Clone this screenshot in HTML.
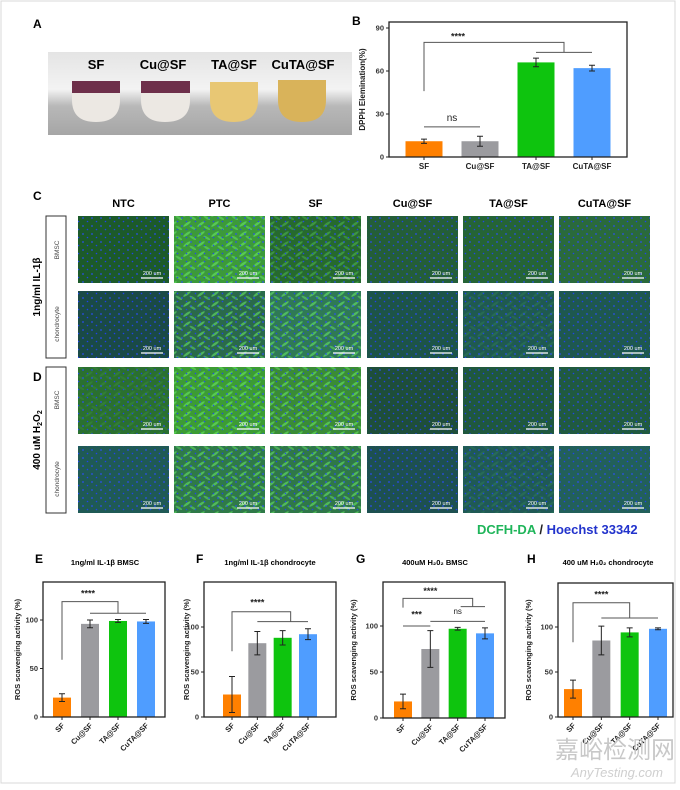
<!DOCTYPE html>
<html><head><meta charset="utf-8">
<style>
html,body{margin:0;padding:0;background:#fff;}
body{width:680px;height:785px;overflow:hidden;font-family:"Liberation Sans",Arial,sans-serif;}
svg text{font-family:"Liberation Sans",Arial,sans-serif;}
</style></head>
<body>
<svg id="fig" width="680" height="785" viewBox="0 0 680 785" xmlns="http://www.w3.org/2000/svg">
<defs>
 <pattern id="nuc" width="9" height="8" patternUnits="userSpaceOnUse">
  <circle cx="2" cy="2" r="0.9" fill="#2b4cff"/><circle cx="6.5" cy="5.5" r="0.8" fill="#2040ff"/>
 </pattern>
 <pattern id="cells" width="14" height="10" patternUnits="userSpaceOnUse">
  <ellipse cx="5" cy="4" rx="4.5" ry="1.2" transform="rotate(-35 5 4)" fill="#6cf06a" opacity="0.55"/>
  <ellipse cx="11" cy="8" rx="4" ry="1.1" transform="rotate(30 11 8)" fill="#6cf06a" opacity="0.45"/>
 </pattern>
 <linearGradient id="photo" x1="0" y1="0" x2="0" y2="1">
  <stop offset="0" stop-color="#e4e4e4"/><stop offset="0.45" stop-color="#f3f3f3"/><stop offset="0.65" stop-color="#b8b8b8"/><stop offset="1" stop-color="#a6a6a6"/>
 </linearGradient>
</defs>
<rect x="1" y="1" width="674" height="782" fill="#fff" stroke="#d8d8d8" stroke-width="1"/>

<!-- Panel A -->
<text x="33" y="28" font-size="12" font-weight="bold">A</text>
<g>
 <rect x="48" y="52" width="304" height="83" fill="url(#photo)"/>
 <g><path d="M72 81 L120 81 L120 100 Q120 122 96 122 Q72 122 72 100 Z" fill="#ece8e3"/><rect x="72" y="81" width="48" height="12" fill="#6e2f4a"/></g>
 <g><path d="M141 81 L190 81 L190 100 Q190 122 165 122 Q141 122 141 100 Z" fill="#ece8e3"/><rect x="141" y="81" width="49" height="12" fill="#6e2f4a"/></g>
 <g><path d="M210 82 L258 82 L258 100 Q258 122 234 122 Q210 122 210 100 Z" fill="#e8c774"/></g>
 <g><path d="M278 80 L326 80 L326 100 Q326 122 302 122 Q278 122 278 100 Z" fill="#d9b35a"/></g>
 <text x="96" y="69" font-size="13" font-weight="bold" text-anchor="middle">SF</text>
 <text x="163" y="69" font-size="13" font-weight="bold" text-anchor="middle">Cu@SF</text>
 <text x="234" y="69" font-size="13" font-weight="bold" text-anchor="middle">TA@SF</text>
 <text x="303" y="69" font-size="13" font-weight="bold" text-anchor="middle">CuTA@SF</text>
</g>

<g id="charts"></g>
<g id="micro"></g>

<text x="33" y="200" font-size="12" font-weight="bold">C</text>
<text x="33" y="381" font-size="12" font-weight="bold">D</text>
<text x="40" y="287" font-size="10" font-weight="bold" text-anchor="middle" transform="rotate(-90 40 287)">1ng/ml IL-1β</text>
<text x="40" y="440" font-size="10" font-weight="bold" text-anchor="middle" transform="rotate(-90 40 440)">400 uM H<tspan font-size="7" dy="2">2</tspan><tspan dy="-2">O</tspan><tspan font-size="7" dy="2">2</tspan></text>
<g><rect x="46" y="216" width="20" height="142" fill="#fff" stroke="#333" stroke-width="1"/></g>
<g><rect x="46" y="367" width="20" height="146" fill="#fff" stroke="#333" stroke-width="1"/></g>
<text x="59" y="250" font-size="6.5" fill="#444" text-anchor="middle" transform="rotate(-90 59 250)">BMSC</text>
<text x="59" y="324" font-size="6.5" fill="#444" text-anchor="middle" transform="rotate(-90 59 324)">chondrocyte</text>
<text x="59" y="400" font-size="6.5" fill="#444" text-anchor="middle" transform="rotate(-90 59 400)">BMSC</text>
<text x="59" y="479" font-size="6.5" fill="#444" text-anchor="middle" transform="rotate(-90 59 479)">chondrocyte</text>

<text x="477" y="534" font-size="13" font-weight="bold"><tspan fill="#1fb55a">DCFH-DA</tspan><tspan fill="#222"> / </tspan><tspan fill="#2233cc">Hoechst 33342</tspan></text>

<g>
<text x="615" y="758" font-size="24" fill="#c8c8c8" text-anchor="middle" font-family="'Liberation Sans','Noto Sans CJK SC',sans-serif">嘉峪检测网</text>
<text x="617" y="777" font-size="13" fill="#cfcfcf" font-style="italic" text-anchor="middle">AnyTesting.com</text>
</g>
</svg>
<script>
const NS="http://www.w3.org/2000/svg";
const categories=["SF","Cu@SF","TA@SF","CuTA@SF"];
const dpphValues=[11,11,66,62];
const dpphErrors=[1.5,3.5,3,2];
const dpphTicks=[0,30,60,90];
const eValues=[20,96,99,98.5];
const eErrors=[4,4,1.5,2];
const fValues=[25,82,88,92];
const fErrors=[20,13,8,6];
const gValues=[18,75,97,92];
const gErrors=[8,20,1.5,6];
const hValues=[31,85,94,98];
const hErrors=[10,16,5,1];
const rosTicks=[0,50,100];
const barColors=["#ff8000","#9b9b9f","#0ec40e","#4f9dff"];

function el(tag,attrs,parent){const e=document.createElementNS(NS,tag);for(const k in attrs)e.setAttribute(k,attrs[k]);(parent||document.getElementById('charts')).appendChild(e);return e;}

function chart(o){
 const g=el('g',{});
 
 
 const y=v=>o.b-(v)*o.s;
 const x=i=>o.l+o.pad+i*(o.r-o.l-2*o.pad)/3;
 const bw=o.bw;
 o.vals.forEach((v,i)=>{
  const r=el('rect',{x:x(i)-bw/2,y:y(v),width:bw,height:o.b-y(v),fill:barColors[i]},g);
  
  
  const e=o.errs[i];
  const eb=el('path',{d:`M${x(i)} ${y(v+e)}V${y(v-e)}M${x(i)-3} ${y(v+e)}H${x(i)+3}M${x(i)-3} ${y(v-e)}H${x(i)+3}`,stroke:'#222','stroke-width':1,fill:'none'},g);
  
  
 });
 const box=el('rect',{x:o.l,y:o.t,width:o.r-o.l,height:o.b-o.t,fill:'none',stroke:'#222','stroke-width':1.3},g);
 
 
 o.ticks.forEach(t=>{
  el('line',{x1:o.l-3,x2:o.l,y1:y(t),y2:y(t),stroke:'#222'},g);
  const tx=el('text',{x:o.l-5,y:y(t)+2.5,'font-size':7.5,'font-weight':'bold','text-anchor':'end',fill:'#333'},g);
  tx.textContent=t;
  
  
 });
 categories.forEach((c,i)=>{
  el('line',{x1:x(i),x2:x(i),y1:o.b,y2:o.b+3,stroke:'#222'},g);
  let t;
  if(o.rot){t=el('text',{x:x(i)+3,y:o.b+9,'font-size':7.5,'font-weight':'bold','text-anchor':'end',transform:`rotate(-45 ${x(i)+3} ${o.b+9})`,fill:'#222'},g);}
  else{t=el('text',{x:x(i),y:o.b+12,'font-size':8,'font-weight':'bold','text-anchor':'middle',fill:'#222'},g);}
  t.textContent=c;
  
  
 });
 const yt=el('text',{x:o.ytx,y:(o.t+o.b)/2,'font-size':o.ytfs||7.5,'font-weight':'bold','text-anchor':'middle',transform:`rotate(-90 ${o.ytx} ${(o.t+o.b)/2})`,fill:'#222'},g);
 yt.textContent=o.ytitle;
 
 
 (o.brackets||[]).forEach(bk=>{
  const p=el('path',{d:bk(x,y),stroke:'#555','stroke-width':1,fill:'none'},g);
  
  
 });
 (o.stars||[]).forEach(s=>{
  const t=el('text',{x:s[0](x),y:y(s[1]),'font-size':s[3]||9,'font-weight':s[2]==='ns'?'normal':'bold','text-anchor':'middle',fill:'#222'},g);
  t.textContent=s[2];
  
  
 });
 return {x,y};
}

// B
chart({name:'dpph-chart',l:389,r:627,t:22,b:157,s:(157-28)/90,pad:35,bw:37,vals:dpphValues,errs:dpphErrors,ticks:dpphTicks,ytx:365,ytitle:'DPPH Elemination(%)',ytfs:8,
 brackets:[(x,y)=>`M${x(0)} ${y(46)}V${y(80)}H${(x(2)+x(3))/2}V${y(73)}M${x(2)} ${y(73)}H${x(3)}`,(x,y)=>`M${x(0)} ${y(21)}H${x(1)}`],
 stars:[[x=>(x(0)+x(3))/2-50,82,'****'],[x=>(x(0)+x(1))/2,25,'ns',10]]});
el('text',{x:352,y:25,'font-size':12,'font-weight':'bold'}).textContent='B';

// E
chart({name:'chart-e',l:43,r:165,t:582,b:717,s:0.97,pad:19,bw:18,vals:eValues,errs:eErrors,ticks:rosTicks,ytx:20,ytitle:'ROS scavenging activity (%)',rot:true,
 brackets:[(x,y)=>`M${x(0)} ${y(59)}V${y(119)}H${x(2)}V${y(107)}M${x(1)} ${y(107)}H${x(3)}`],stars:[[x=>(x(0)+x(2))/2-2,124,'****']]});
// F
chart({name:'chart-f',l:204,r:336,t:582,b:717,s:0.9,pad:28,bw:18,vals:fValues,errs:fErrors,ticks:rosTicks,ytx:189,ytitle:'ROS scavenging activity (%)',rot:true,
 brackets:[(x,y)=>`M${x(0)} ${y(73)}V${y(117)}H${(x(1)+x(3))/2+8}V${y(106)}M${x(1)} ${y(106)}H${x(3)}`],stars:[[x=>(x(0)+x(2))/2,124,'****']]});
// G
chart({name:'chart-g',l:383,r:505,t:582,b:718,s:0.92,pad:20,bw:18,vals:gValues,errs:gErrors,ticks:rosTicks,ytx:356,ytitle:'ROS scavenging activity (%)',rot:true,
 brackets:[(x,y)=>`M${x(0)} ${y(120)}V${y(130)}H${x(2)+15}V${y(121)}M${x(2)+3} ${y(121)}H${x(3)}`,(x,y)=>`M${x(1)} ${y(105)}H${x(3)}`,(x,y)=>`M${x(0)} ${y(100)}H${x(1)}`],
 stars:[[x=>(x(0)+x(2))/2,135,'****'],[x=>x(2),113,'ns',8],[x=>(x(0)+x(1))/2,109,'***']]});
// H
chart({name:'chart-h',l:558,r:673,t:583,b:717,s:0.9,pad:15,bw:18,vals:hValues,errs:hErrors,ticks:rosTicks,ytx:531,ytitle:'ROS scavenging activity (%)',rot:true,
 brackets:[(x,y)=>`M${x(0)} ${y(83)}V${y(127)}H${x(2)}V${y(110)}M${x(1)} ${y(110)}H${x(3)}`],stars:[[x=>(x(0)+x(2))/2,133,'****']]});

const titles=[[35,563,'E',105,'1ng/ml IL-1β BMSC'],[196,563,'F',270,'1ng/ml IL-1β chondrocyte'],[356,563,'G',435,'400uM H₂0₂ BMSC'],[527,563,'H',608,'400 uM H₂0₂ chondrocyte']];
titles.forEach(t=>{
 const a=el('text',{x:t[0],y:t[1],'font-size':12,'font-weight':'bold'});a.textContent=t[2];
 
 
 const b=el('text',{x:t[3],y:t[1]+2,'font-size':7.5,'font-weight':'bold','text-anchor':'middle'});b.textContent=t[4];
 
 
});

// microscopy grid
const cols=["NTC","PTC","SF","Cu@SF","TA@SF","CuTA@SF"];
const colX=[78,174,270,367,463,559];
const rowY=[[216,283],[291,358],[367,434],[446,513]];
const tints=[
 ["#1c5a2a","#3c9a3a","#266a2e","#245e38","#256436","#2a6a3c"],
 ["#1a4a46","#2a6a4a","#2f7a55","#1d5448","#1f5a50","#1e584f"],
 ["#2a7030","#3c9c34","#3a8c36","#1e4e3a","#1f583e","#205a40"],
 ["#1f5a55","#2f7a48","#2f7848","#1d5050","#1f5a55","#22605a"]];
const bright=[[0,1,0.6,0,0,0],[0,1,1,0,0.2,0],[0.2,1,1,0,0,0],[0,1,1,0,0.2,0]];
const mg=document.getElementById('micro');
cols.forEach((c,i)=>{
 const t=el('text',{x:colX[i]+45.5,y:207,'font-size':11,'font-weight':'bold','text-anchor':'middle'},mg);
 t.textContent=c;
 
 
 rowY.forEach((r,j)=>{
  const g=el('g',{},mg);
  
  
  el('rect',{x:colX[i],y:r[0],width:91,height:r[1]-r[0],fill:tints[j][i]},g);
  if(bright[j][i]>0)el('rect',{x:colX[i],y:r[0],width:91,height:r[1]-r[0],fill:'url(#cells)',opacity:bright[j][i]},g);
  el('rect',{x:colX[i],y:r[0],width:91,height:r[1]-r[0],fill:'url(#nuc)',opacity:0.9},g);
  el('line',{x1:colX[i]+63,x2:colX[i]+85,y1:r[1]-5,y2:r[1]-5,stroke:'#fff','stroke-width':1.2},g);
  const s=el('text',{x:colX[i]+74,y:r[1]-8,'font-size':5.5,fill:'#fff','text-anchor':'middle'},g);
  s.textContent='200 um';
 });
});
</script>
</body></html>
